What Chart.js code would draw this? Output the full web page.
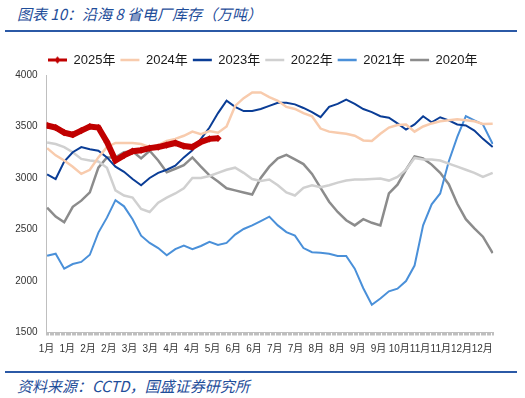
<!DOCTYPE html>
<html><head><meta charset="utf-8">
<script src="https://cdn.jsdelivr.net/npm/chart.js@4.4.1/dist/chart.umd.min.js"></script>
<style>
html,body{margin:0;padding:0;background:#fff;}
#wrap{position:relative;width:525px;height:398px;overflow:hidden;background:#fff;}
.title{position:absolute;left:17px;top:4px;font-style:italic;font-size:15px;font-family:'Noto Sans CJK SC',sans-serif;color:#1f4e9a;line-height:19px;white-space:nowrap;}
.rule{position:absolute;left:5px;width:512px;height:2px;background:#2b59a6;}
#cbox{position:absolute;left:0;top:0;width:525px;height:365px;}
.src{position:absolute;left:17px;top:376px;font-style:italic;font-size:15px;font-family:'Noto Sans CJK SC',sans-serif;color:#1f4e9a;line-height:19px;white-space:nowrap;}
</style></head>
<body><div id="wrap">
<div class="title">图表 10：沿海 8 省电厂库存（万吨）</div>
<div class="rule" style="top:30px"></div>
<div id="cbox"><canvas id="c"></canvas></div>
<div class="rule" style="top:371px"></div>
<div class="src">资料来源：CCTD，国盛证券研究所</div>
</div>
<script>
const days = [0,7,14,21,28,35,42,49,56,63,70,77,84,91,98,105,112,119,126,133,140,147,154,161,168,175,182,189,196,203,210,217,224,231,238,245,252,259,266,273,280,287,294,301,308,315,322,329,336,343,350,357,365];
const tickDays = [0,17,34,51,68,85,102,119,136,153,170,187,204,221,238,255,272,289,306,323,340,357];
const tickLabels = ['1月','1月','2月','2月','3月','3月','4月','4月','5月','6月','6月','7月','7月','8月','8月','9月','9月','10月','11月','11月','12月','12月'];
const seriesNames = ['2025年','2024年','2023年','2022年','2021年','2020年'];
const s2025 = [3510,3490,3440,3420,3460,3500,3490,3350,3170,3220,3260,3270,3290,3300,3320,3340,3310,3300,3350,3380,3385];
const s2024 = [3290,3220,3170,3110,3040,3080,3200,3300,3340,3340,3340,3330,3300,3320,3360,3380,3410,3450,3425,3455,3440,3500,3700,3775,3830,3830,3785,3750,3690,3670,3630,3600,3480,3450,3440,3430,3410,3365,3360,3430,3490,3515,3520,3450,3500,3530,3550,3560,3570,3560,3550,3525,3527];
const s2023 = [3035,2990,3160,3250,3300,3280,3265,3200,3110,3060,2990,2930,3000,3050,3080,3120,3200,3270,3380,3490,3630,3750,3690,3650,3650,3670,3700,3730,3730,3715,3680,3640,3590,3690,3720,3760,3720,3670,3640,3600,3585,3530,3470,3520,3600,3540,3590,3560,3520,3510,3460,3380,3300];
const s2022 = [3345,3330,3300,3250,3185,3170,3160,3100,2880,2830,2810,2700,2670,2760,2810,2850,2900,3000,3000,3020,3050,3080,3100,3050,2990,2970,2985,2930,2860,2830,2905,2930,2910,2930,2955,2975,2985,2985,2990,2995,2975,3010,3080,3195,3180,3180,3170,3140,3110,3080,3050,3010,3050];
const s2021 = [2245,2265,2120,2165,2185,2255,2470,2615,2785,2725,2600,2440,2370,2320,2250,2310,2345,2310,2340,2380,2350,2370,2450,2505,2540,2582,2625,2540,2475,2440,2320,2280,2275,2265,2243,2243,2120,1930,1770,1830,1900,1925,2000,2150,2540,2745,2850,3160,3400,3600,3560,3520,3330];
const s2020 = [2712,2625,2570,2720,2780,2860,3100,3200,3200,3250,3260,3190,3265,3170,3055,3090,3125,3200,3110,3025,2965,2900,2880,2860,2840,3000,3110,3190,3225,3180,3135,3040,2905,2770,2670,2590,2540,2600,2565,2540,2850,2935,3080,3210,3190,3130,3050,2940,2750,2600,2510,2430,2270];

const colors = ['#c00000','#f8cbad','#0a3d96','#d0d0d0','#4a90d9','#8c8c8c'];
const widths = [6,2.5,2,2.5,2,2.5];
const allSeries = [s2025,s2024,s2023,s2022,s2021,s2020];

function toPts(arr){ return arr.map((v,i)=>({x:days[i], y:v})); }

// legend marker for 2025 (line with diamond)
const mk = document.createElement('canvas');
mk.width = 19; mk.height = 9;
(function(){ const g = mk.getContext('2d');
  g.strokeStyle = colors[0]; g.lineWidth = 3; g.beginPath(); g.moveTo(0,4.5); g.lineTo(19,4.5); g.stroke();
  g.fillStyle = colors[0]; g.beginPath(); g.moveTo(9.5,1); g.lineTo(13,4.5); g.lineTo(9.5,8); g.lineTo(6,4.5); g.closePath(); g.fill();
})();

const datasets = allSeries.map((arr,i)=>({
  label: seriesNames[i],
  data: toPts(arr),
  borderColor: colors[i],
  backgroundColor: colors[i],
  borderWidth: widths[i],
  pointRadius: i===0 ? 3.6 : 0,
  pointStyle: i===0 ? 'rectRot' : 'circle',
  pointBackgroundColor: colors[i],
  pointBorderWidth: 0,
  tension: 0,
  fill: false
}));

const FONT = "'Liberation Sans','Noto Sans CJK SC',sans-serif";

// place legend row where the reference has it
const legendPlace = {
  id: 'legendPlace',
  afterLayout(chart){
    const l = chart.legend; if(!l) return;
    l.left = 43; l.right = 525;
    l.top += 1.5; l.bottom += 1.5;
  }
};

new Chart(document.getElementById('c'), {
  type: 'line',
  data: { datasets },
  plugins: [legendPlace],
  options: {
    responsive: true, maintainAspectRatio: false, animation: false,
    layout: { padding: { top: 47, right: 31.7, bottom: 1.5, left: 0 } },
    plugins: {
      tooltip: { enabled: false },
      legend: {
        position: 'top', align: 'start',
        labels: {
          usePointStyle: true, pointStyleWidth: 19, padding: 5,
          font: { size: 13, family: FONT }, color: '#1a1a1a',
          generateLabels: chart => {
            const items = Chart.defaults.plugins.legend.labels.generateLabels(chart);
            items.forEach((it,i)=>{
              it.pointStyle = i===0 ? mk : 'line';
              it.lineWidth = 2.5; it.strokeStyle = colors[i]; it.fillStyle = colors[i];
            });
            return items;
          }
        }
      }
    },
    scales: {
      x: {
        type: 'linear', min: -0.5, max: 365.5,
        afterBuildTicks: s => { const t=[]; for(let k=0;k<=366;k++) t.push({value:k-0.5}); s.ticks=t; },
        ticks: { autoSkip: false, maxRotation: 0, minRotation: 0, padding: 8, color: '#333',
          font: { size: 10, family: FONT },
          callback: (v,i) => { const j = tickDays.indexOf(i); return j>=0 ? tickLabels[j] : ''; } },
        grid: { display: true, drawOnChartArea: false, drawTicks: true, tickLength: 3, color: '#bfbfbf', lineWidth: 1 },
        border: { display: true, color: '#bfbfbf' }
      },
      y: {
        min: 1500, max: 4000,
        afterFit: s => { s.width = 46.5; },
        ticks: { stepSize: 500, padding: 9, color: '#333', font: { size: 10, family: FONT }, callback: v => String(v) },
        grid: { display: true, drawOnChartArea: false, drawTicks: false },
        border: { display: true, color: '#bfbfbf' }
      }
    }
  }
});
</script>
</body></html>
